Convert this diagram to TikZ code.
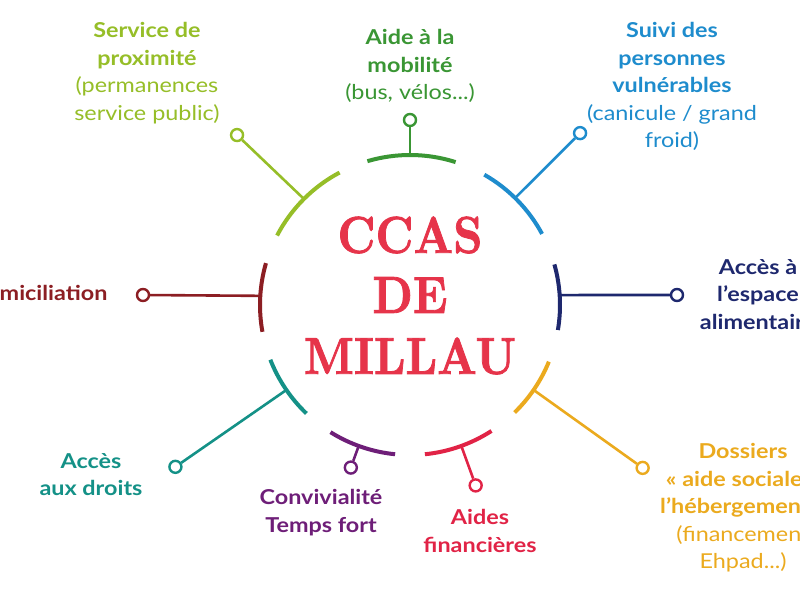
\documentclass[tikz,border=0pt]{standalone}
\usepackage{fontspec}
\usepackage{graphicx}
\setmainfont{Lato}[FakeStretch=1.14]
\newfontface\titlefont{lmroman10-bold.otf}[FakeBold=1.6]
\usetikzlibrary{calc}
\definecolor{clime}{RGB}{150,190,40}
\definecolor{cgreen}{RGB}{58,150,52}
\definecolor{cblue}{RGB}{30,140,205}
\definecolor{cnavy}{RGB}{30,40,110}
\definecolor{cmaroon}{RGB}{140,30,35}
\definecolor{corange}{RGB}{235,170,30}
\definecolor{cred}{RGB}{225,35,70}
\definecolor{cpurple}{RGB}{110,30,120}
\definecolor{cteal}{RGB}{20,145,135}
\definecolor{ctitle}{RGB}{230,52,74}
\tikzset{
  arcline/.style={line width=4pt},
  spoke/.style={line width=2.6pt},
  knob/.style={circle, draw, line width=2.4pt, fill=white, minimum size=12pt, inner sep=0pt},
  lbl/.style={align=center, font=\fontsize{20.5}{27.5}\selectfont},
  ttl/.style={text=ctitle, font=\titlefont\fontsize{52}{61}\selectfont, inner sep=0pt}
}
\begin{document}
\begin{tikzpicture}[x=1pt,y=1pt]
\useasboundingbox (0,0) rectangle (800,600);
\clip (0,0) rectangle (800,600);
\fill[white] (0,0) rectangle (800,600);
\coordinate (C) at (410,295);

% title
\node[ttl] (t1) at (410,365) {\scalebox{0.88}[1]{CCAS}};
\node[ttl] (t2) at (410,305) {\scalebox{0.88}[1]{DE}};
\node[ttl] (t3) at (410,244) {\scalebox{0.88}[1]{MILLAU}};

% branches: colour / arc start / arc end / spoke angle / knob angle / knob distance / name
\foreach \col/\a/\b/\s/\k/\d/\nm in {
  clime/118/152.4/135/135.5/242.5/lime,
  cgreen/72.3/106.5/90/90/185/green,
  cblue/28.3/60.3/45.5/45.3/241.8/blue,
  corange/-45.8/-22.2/-34.5/-35/284/orange,
  cred/-84.3/-57.1/-70/-70/192/red,
  cpurple/-122/-95.7/-110/-110/173/purple,
  cteal/-158.6/-133.7/-145.5/-145.4/285/teal}{
  \draw[arcline,\col] ($(C)+(\a:150)$) arc[start angle=\a, end angle=\b, radius=150];
  \coordinate (\nm-a) at ($(C)+(\s:150)$);
  \node[knob,draw=\col] (\nm-k) at ($(C)+(\k:\d)$) {};
  \draw[spoke,\col] (\nm-a) -- (\nm-k);
}
% navy (horizontal)
\draw[arcline,cnavy] ($(C)+(-9.6:150)$) arc[start angle=-9.6, end angle=15.7, radius=150];
\coordinate (navy-a) at ($(C)+(3.8:150)$);
\node[knob,draw=cnavy] (navy-k) at (677,305) {};
\draw[spoke,cnavy] (navy-a) -- (navy-k);
% maroon (horizontal)
\draw[arcline,cmaroon] ($(C)+(163.8:150)$) arc[start angle=163.8, end angle=190.3, radius=150];
\coordinate (maroon-a) at ($(C)+(176.5:150)$);
\node[knob,draw=cmaroon] (maroon-k) at (143,305) {};
\draw[spoke,cmaroon] (maroon-a) -- (maroon-k);

% labels
\node[lbl,text=clime] (lime-l) at (147,527) {\textbf{Service de}\\\textbf{proximité}\\(permanences\\service public)};
\node[lbl,text=cgreen] (green-l) at (410,534) {\textbf{Aide à la}\\\textbf{mobilité}\\(bus, vélos...)};
\node[lbl,text=cblue] (blue-l) at (672,513.5) {\textbf{Suivi des}\\\textbf{personnes}\\\textbf{vulnérables}\\(canicule / grand\\froid)};
\node[lbl,text=cnavy] (navy-l) at (758,305.5) {\textbf{Accès à}\\\textbf{l’espace}\\\textbf{alimentaire}};
\node[lbl,text=cmaroon,anchor=east] (maroon-l) at (111,307) {\textbf{Domiciliation}};
\node[lbl,text=corange] (orange-l) at (743,92) {\textbf{Dossiers}\\\textbf{« aide sociale à}\\\textbf{l’hébergement »}\\(financement\\Ehpad...)};
\node[lbl,text=cred] (red-l) at (480,69) {\textbf{Aides}\\\textbf{financières}};
\node[lbl,text=cpurple] (purple-l) at (321,87.5) {\textbf{Convivialité}\\\textbf{Temps fort}};
\node[lbl,text=cteal] (teal-l) at (91,125.5) {\textbf{Accès}\\\textbf{aux droits}};
\end{tikzpicture}
\end{document}
